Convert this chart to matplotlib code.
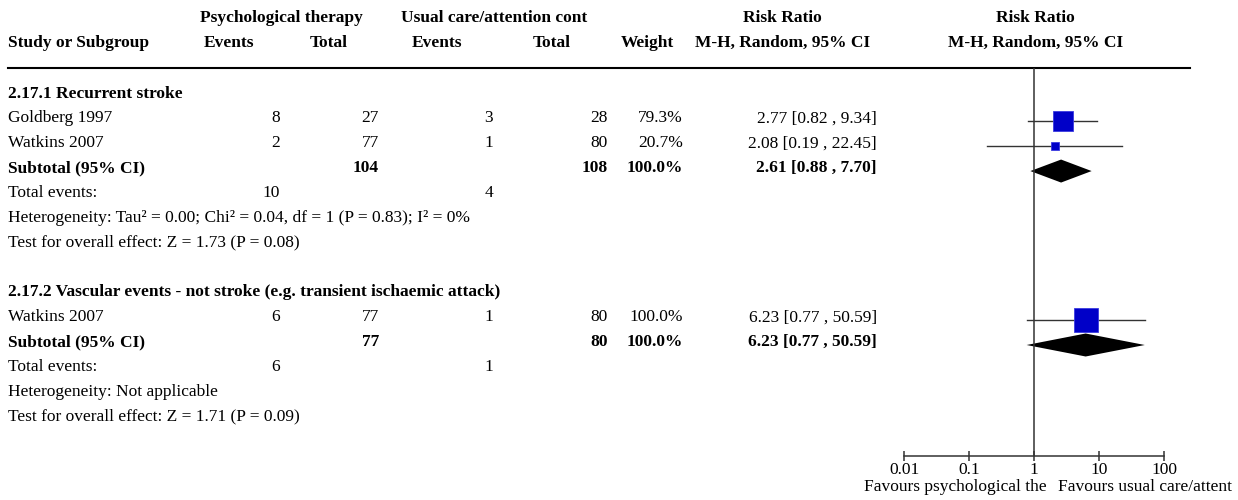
import matplotlib.pyplot as plt
from matplotlib.patches import Polygon

plt.rcParams['font.family'] = ['Liberation Serif', 'DejaVu Serif']

# subgroup data
sub_titles = ['2.17.1 Recurrent stroke',
              '2.17.2 Vascular events - not stroke (e.g. transient ischaemic attack)']
studies = [['Goldberg 1997', 'Watkins 2007'], ['Watkins 2007']]
exp_events = [[8, 2], [6]]
exp_total = [[27, 77], [77]]
ctl_events = [[3, 1], [1]]
ctl_total = [[28, 80], [80]]
weights = [[79.3, 20.7], [100.0]]
rr = [[2.77, 2.08], [6.23]]
rr_lo = [[0.82, 0.19], [0.77]]
rr_hi = [[9.34, 22.45], [50.59]]
sub_rr = [2.61, 6.23]
sub_lo = [0.88, 0.77]
sub_hi = [7.70, 50.59]
heterogeneity = ['Heterogeneity: Tau² = 0.00; Chi² = 0.04, df = 1 (P = 0.83); I² = 0%',
                 'Heterogeneity: Not applicable']
overall_effect = ['Test for overall effect: Z = 1.73 (P = 0.08)',
                  'Test for overall effect: Z = 1.71 (P = 0.09)']
tick_vals = [0.01, 0.1, 1, 10, 100]
tick_labels = ['0.01', '0.1', '1', '10', '100']
left_favours = 'Favours psychological the'
right_favours = 'Favours usual care/attent'

W, H = 1238, 500
fig = plt.figure(figsize=(W / 100, H / 100), dpi=100)

# text layer in pixel coordinates
tx = fig.add_axes([0, 0, 1, 1])
tx.set_xlim(0, W)
tx.set_ylim(H, 0)
tx.axis('off')

FS = 12.5
col_ev1, col_tot1, col_ev2, col_tot2, col_w, col_ci = 280, 379, 493, 608, 683, 877
line_y = 68
axis_y = 456

def txt(x, y, s, ha='left', bold=False):
    tx.text(x, y, s, ha=ha, va='center', fontsize=FS,
            fontweight='bold' if bold else 'normal')

# header
txt(281, 18, 'Psychological therapy', 'center', True)
txt(494, 18, 'Usual care/attention cont', 'center', True)
txt(782, 18, 'Risk Ratio', 'center', True)
txt(1035, 18, 'Risk Ratio', 'center', True)
txt(8, 43, 'Study or Subgroup', bold=True)
txt(229, 43, 'Events', 'center', True)
txt(329, 43, 'Total', 'center', True)
txt(437, 43, 'Events', 'center', True)
txt(552, 43, 'Total', 'center', True)
txt(674, 43, 'Weight', 'right', True)
txt(783, 43, 'M-H, Random, 95% CI', 'center', True)
txt(1036, 43, 'M-H, Random, 95% CI', 'center', True)
tx.plot([8, 1190], [line_y, line_y], color='black', lw=1.5)

# forest panel: x on log scale, y in the same pixel rows as the table
fx = fig.add_axes([904 / W, (H - axis_y) / H, 260 / W, (axis_y - line_y) / H])
fx.set_xscale('log')
fx.set_xlim(0.01, 100)
fx.set_ylim(axis_y, line_y)
for s in ['top', 'right', 'left']:
    fx.spines[s].set_visible(False)
fx.spines['bottom'].set_color('#333333')
fx.spines['bottom'].set_linewidth(1.1)
fx.set_xticks(tick_vals)
fx.set_xticklabels(tick_labels)
fx.minorticks_off()
fx.set_yticks([])
fx.tick_params(axis='x', direction='inout', length=7, width=1.1, color='#333333',
               labelsize=FS, pad=1)
fx.patch.set_alpha(0)
fx.axvline(1, color='#333333', lw=1.1)

step = 24.85
mark_off = 3  # marks sit slightly below the text centre line
y = 93.5
for g in range(len(sub_titles)):
    txt(8, y, sub_titles[g], bold=True)
    y += step
    for i, name in enumerate(studies[g]):
        txt(8, y, name)
        txt(col_ev1, y, str(exp_events[g][i]), 'right')
        txt(col_tot1, y, str(exp_total[g][i]), 'right')
        txt(col_ev2, y, str(ctl_events[g][i]), 'right')
        txt(col_tot2, y, str(ctl_total[g][i]), 'right')
        txt(col_w, y, f'{weights[g][i]:.1f}%', 'right')
        txt(col_ci, y, f'{rr[g][i]:.2f} [{rr_lo[g][i]:.2f} , {rr_hi[g][i]:.2f}]', 'right')
        my = y + mark_off
        fx.plot([rr_lo[g][i], rr_hi[g][i]], [my, my], color='#333333', lw=1.0)
        side = 24 * (weights[g][i] / 100) ** 0.75
        fx.plot(rr[g][i], my, marker='s', ms=side * 0.72, color='#0000c8',
                mec='#3a3ae0', mew=0.6)
        y += step
    txt(8, y, 'Subtotal (95% CI)', bold=True)
    txt(col_tot1, y, str(sum(exp_total[g])), 'right', True)
    txt(col_tot2, y, str(sum(ctl_total[g])), 'right', True)
    txt(col_w, y, f'{sum(weights[g]):.1f}%', 'right', True)
    txt(col_ci, y, f'{sub_rr[g]:.2f} [{sub_lo[g]:.2f} , {sub_hi[g]:.2f}]', 'right', True)
    my = y + mark_off
    fx.add_patch(Polygon([(sub_lo[g], my), (sub_rr[g], my - 11.5),
                          (sub_hi[g], my), (sub_rr[g], my + 11.5)],
                         closed=True, color='black', lw=0))
    y += step
    txt(8, y, 'Total events:')
    txt(col_ev1, y, str(sum(exp_events[g])), 'right')
    txt(col_ev2, y, str(sum(ctl_events[g])), 'right')
    y += step
    txt(8, y, heterogeneity[g])
    y += step
    txt(8, y, overall_effect[g])
    y += 2 * step

txt(1047, 487, left_favours, 'right')
txt(1058, 487, right_favours)

fig.savefig('out.png', dpi=100)
